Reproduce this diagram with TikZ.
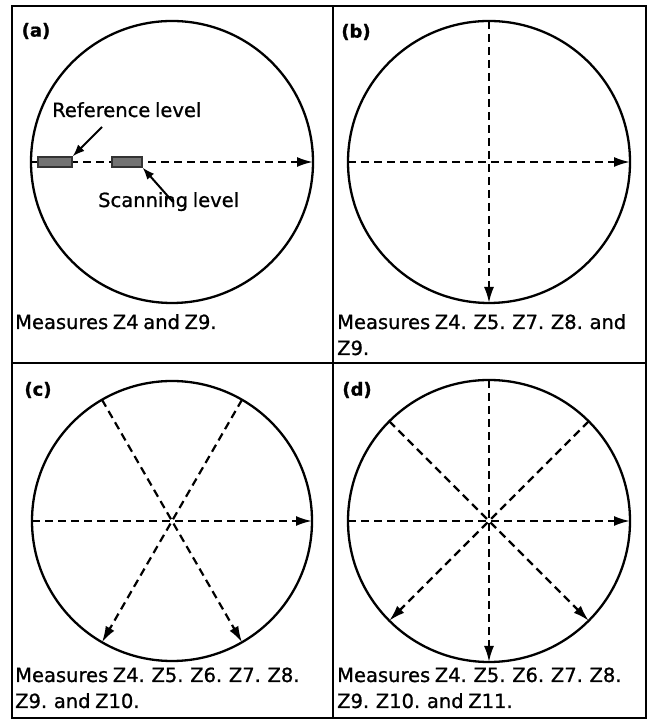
\documentclass[tikz,border=0pt]{standalone}
\usepackage{fontspec}
\setmainfont{DejaVu Sans}[FakeBold=1,WordSpace=0.75]
\usetikzlibrary{arrows.meta}

\begin{document}
\begin{tikzpicture}[
    x=1pt,y=1pt,
    frame/.style={line width=2.8pt},
    disc/.style={line width=2.3pt},
    scan/.style={line width=2.2pt,dash pattern=on 8pt off 5pt,-{Latex[length=16pt,width=10pt]}},
    pointer/.style={line width=2pt,-{Latex[length=12pt,width=9pt]}},
    bar/.style={draw=black!80,fill=black!55,line width=1.3pt,minimum height=10pt,inner sep=0pt},
    tag/.style={font=\bfseries\fontsize{18}{20}\selectfont,inner sep=0pt},
    note/.style={font=\fontsize{19.5}{26}\selectfont,inner sep=0pt,anchor=base west,align=left},
    >=Latex]
  \useasboundingbox (0,0) rectangle (649,719);
  \draw[frame] (12,1) rectangle (646,713);
  \draw[frame] (333,1) -- (333,713);
  \draw[frame] (12,356) -- (646,356);

  \coordinate (ca) at (172,557);
  \coordinate (cb) at (489,557);
  \coordinate (cc) at (172,198);
  \coordinate (cd) at (489,198);

  % (a) one scan line
  \draw[disc] (ca) circle[radius=141];
  \draw[scan] ([shift={(180:141)}]ca) -- ([shift={(0:141)}]ca);
  \node[bar,minimum width=34pt] (refbar) at (55,557) {};
  \node[bar,minimum width=30pt] (scanbar) at (127,557) {};
  \node[note] (reftext) at (52,602) {Reference level};
  \node[note] (scantext) at (98,512) {Scanning level};
  \draw[pointer] ([shift={(50pt,-10pt)}]reftext.base west) -- (refbar.north east);
  \draw[pointer] ([shift={(75pt,5pt)}]scantext.base west) -- (scanbar.south east);
  \node[tag] (taga) at (36,688) {(a)};
  \node[note] (capa) at (15,390) {Measures Z4 and Z9.};

  % (b) two scan lines
  \draw[disc] (cb) circle[radius=141];
  \foreach \a in {180,90}
    \draw[scan] ([shift={(\a:141)}]cb) -- ([shift={(\a+180:141)}]cb);
  \node[tag] (tagb) at (356,687) {(b)};
  \node[note] (capb) at (337,364) {Measures Z4. Z5. Z7. Z8. and\\Z9.};

  % (c) three scan lines
  \draw[disc] (cc) circle[radius=140];
  \foreach \a in {180,120,60}
    \draw[scan] ([shift={(\a:140)}]cc) -- ([shift={(\a+180:140)}]cc);
  \node[tag] (tagc) at (38,329) {(c)};
  \node[note] (capc) at (15,11) {Measures Z4. Z5. Z6. Z7. Z8.\\Z9. and Z10.};

  % (d) four scan lines
  \draw[disc] (cd) circle[radius=141];
  \foreach \a in {180,135,90,45}
    \draw[scan] ([shift={(\a:141)}]cd) -- ([shift={(\a+180:141)}]cd);
  \node[tag] (tagd) at (357,329) {(d)};
  \node[note] (capd) at (337,11) {Measures Z4. Z5. Z6. Z7. Z8.\\Z9. Z10. and Z11.};
\end{tikzpicture}
\end{document}
